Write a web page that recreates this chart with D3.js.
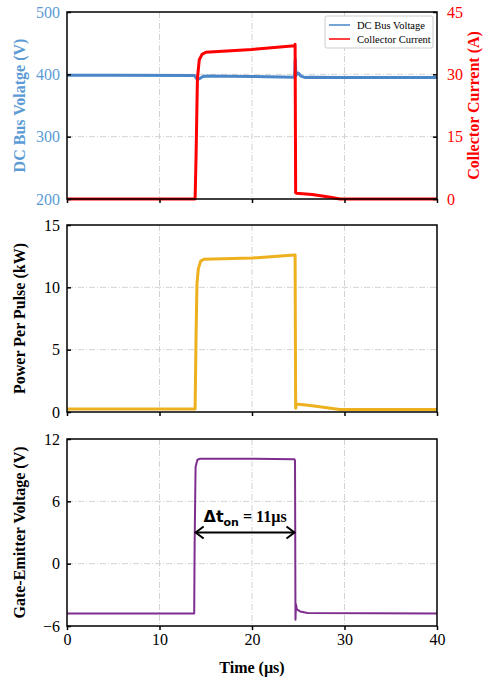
<!DOCTYPE html>
<html><head><meta charset="utf-8">
<script src="https://cdn.jsdelivr.net/npm/d3@7"></script>
<style>body{margin:0;background:#fff}svg{display:block}</style>
</head><body><svg id="c" width="483" height="681"></svg>
<script>
// ---- data ----
const xTicks = [0, 10, 20, 30, 40];
const vbusTicks = [200, 300, 400, 500];
const curTicks = [0, 15, 30, 45];
const powTicks = [0, 5, 10, 15];
const gateTicks = [-6, 0, 6, 12];

const vbusT = [0, 5, 13.8, 14.0, 14.3, 14.7, 15.2, 20, 24.6, 24.68, 24.75, 24.85, 25.0, 25.3, 25.7, 26.2, 30, 40];
const vbusV = [398.5, 398.5, 398, 393.5, 393, 396.5, 397.5, 396.5, 395.5, 424, 398, 401.5, 402, 397, 395, 395.5, 395, 395];

const curT = [0, 13.85, 13.95, 14.1, 14.3, 14.6, 15.0, 20, 24.6, 24.66, 24.72, 24.8, 26.5, 28.5, 29.5, 40];
const curA = [0, 0, 10, 29, 33.5, 34.8, 35.3, 36, 36.9, 37.2, 1.5, 1.4, 1.1, 0.4, 0, 0];

const powT = [0, 13.85, 13.95, 14.05, 14.2, 14.45, 14.8, 20, 24.6, 24.66, 24.72, 24.8, 26.5, 29.5, 40];
const powKW = [0.25, 0.25, 6, 10.3, 11.5, 12.1, 12.25, 12.35, 12.6, 12.6, 0.3, 0.65, 0.5, 0.2, 0.2];

const gateT = [0, 13.75, 13.8, 13.9, 14.1, 14.4, 20, 24.6, 24.65, 24.7, 24.75, 24.85, 25.2, 26, 40];
const gateV = [-4.8, -4.8, 2, 9.3, 10.0, 10.1, 10.1, 10.05, 9.9, -5.4, -3.9, -4.4, -4.6, -4.75, -4.8];

const legendLabels = ["DC Bus Voltage", "Collector Current"];
const arrowT = [13.8, 24.7];
const arrowV = 3;

// ---- layout ----
const svg = d3.select("#c");
const X0 = 67, X1 = 437;
const panels = [[12, 199], [225, 412], [439, 626]];
const serif = "'Liberation Serif','Times New Roman',serif";
const blue = "#4a86c8", blueTxt = "#5b9bd5", red = "#ff0000", orange = "#edb120", purple = "#7e2f8e";

const x = d3.scaleLinear().domain([0, 40]).range([X0, X1]);

function gridAndFrame(y, yt, p) {
  const g = svg.append("g");
  g.selectAll(".gx").data(xTicks.slice(1, -1)).enter().append("line")
    .attr("x1", d => x(d)).attr("x2", d => x(d)).attr("y1", p[0]).attr("y2", p[1])
    .attr("stroke", "#d3d3d3").attr("stroke-width", 1).attr("stroke-dasharray", "6,2,1,2");
  g.selectAll(".gy").data(yt.slice(1, -1)).enter().append("line")
    .attr("x1", X0).attr("x2", X1).attr("y1", d => y(d)).attr("y2", d => y(d))
    .attr("stroke", "#d3d3d3").attr("stroke-width", 1).attr("stroke-dasharray", "6,2,1,2");
}

function frame(p, showXLabels) {
  const g = svg.append("g");
  g.append("rect").attr("x", X0).attr("y", p[0]).attr("width", X1 - X0).attr("height", p[1] - p[0])
    .attr("fill", "none").attr("stroke", "#000").attr("stroke-width", 1.5);
  const ax = d3.axisBottom(x).tickValues(xTicks).tickSize(4).tickSizeOuter(0)
    .tickFormat(showXLabels ? d3.format("d") : "");
  const a = g.append("g").attr("transform", `translate(0,${p[1]})`).call(ax);
  a.select(".domain").remove();
  a.selectAll("line").attr("stroke", "#000").attr("stroke-width", 1.5);
  a.selectAll("text").attr("font-family", serif).attr("font-size", 16).attr("fill", "#000").attr("dy", "0.95em").attr("y", 4);
}

function leftAxis(y, ticks, color, fmt) {
  const ax = d3.axisLeft(y).tickValues(ticks).tickSize(-4).tickSizeOuter(0).tickPadding(7).tickFormat(fmt || d3.format("d"));
  const a = svg.append("g").attr("transform", `translate(${X0},0)`).call(ax);
  a.select(".domain").remove();
  a.selectAll("line").attr("stroke", "#000").attr("stroke-width", 1.5);
  a.selectAll("text").attr("font-family", serif).attr("font-size", 16).attr("fill", color).attr("x", -7);
}
function rightAxis(y, ticks, color) {
  const ax = d3.axisRight(y).tickValues(ticks).tickSize(-4).tickSizeOuter(0).tickFormat(d3.format("d"));
  const a = svg.append("g").attr("transform", `translate(${X1},0)`).call(ax);
  a.select(".domain").remove();
  a.selectAll("line").attr("stroke", "#000").attr("stroke-width", 1.5);
  a.selectAll("text").attr("font-family", serif).attr("font-size", 16).attr("fill", color).attr("x", 10);
}
function ylabel(text, xpos, p, color) {
  svg.append("text").attr("transform", `translate(${xpos},${(p[0] + p[1]) / 2}) rotate(-90)`)
    .attr("text-anchor", "middle").attr("font-family", serif).attr("font-weight", "bold")
    .attr("font-size", 16).attr("fill", color).text(text);
}
function drawLine(xs, ys, y, color, w) {
  const pts = xs.map((t, i) => [t, ys[i]]);
  svg.append("path").datum(pts).attr("fill", "none").attr("stroke", color).attr("stroke-width", w)
    .attr("stroke-linejoin", "round")
    .attr("d", d3.line().x(d => x(d[0])).y(d => y(d[1])));
}

// ---- panel 1 ----
const p1 = panels[0];
const yV = d3.scaleLinear().domain([200, 500]).range([p1[1], p1[0]]);
const yI = d3.scaleLinear().domain([0, 45]).range([p1[1], p1[0]]);
gridAndFrame(yV, vbusTicks, p1);
drawLine(vbusT, vbusV, yV, blue, 3);
drawLine(curT, curA, yI, red, 3);
frame(p1, false);
leftAxis(yV, vbusTicks, blueTxt);
rightAxis(yI, curTicks, red);
ylabel("DC Bus Volatge (V)", 25, p1, blueTxt);
ylabel("Collector Current (A)", 479, p1, red);
// legend
const lg = svg.append("g");
lg.append("rect").attr("x", 325).attr("y", 16).attr("width", 108).attr("height", 32).attr("rx", 2)
  .attr("fill", "#fff").attr("stroke", "#cccccc").attr("stroke-width", 1);
[blue, red].forEach((c, i) => {
  const yy = 25 + i * 14;
  lg.append("line").attr("x1", 329).attr("x2", 350).attr("y1", yy).attr("y2", yy).attr("stroke", c).attr("stroke-width", 1.5);
  lg.append("text").attr("x", 357).attr("y", yy + 3.5).attr("font-family", serif).attr("font-size", 10.5)
    .attr("fill", "#000").text(legendLabels[i]);
});

// ---- panel 2 ----
const p2 = panels[1];
const yP = d3.scaleLinear().domain([0, 15]).range([p2[1], p2[0]]);
gridAndFrame(yP, powTicks, p2);
drawLine(powT, powKW, yP, orange, 3);
frame(p2, false);
leftAxis(yP, powTicks, "#000");
ylabel("Power Per Pulse (kW)", 25, p2, "#000");

// ---- panel 3 ----
const p3 = panels[2];
const yG = d3.scaleLinear().domain([-6, 12]).range([p3[1], p3[0]]);
gridAndFrame(yG, gateTicks, p3);
drawLine(gateT, gateV, yG, purple, 2);
frame(p3, true);
leftAxis(yG, gateTicks, "#000");
ylabel("Gate-Emitter Voltage (V)", 25, p3, "#000");
svg.append("text").attr("x", (X0 + X1) / 2).attr("y", 673).attr("text-anchor", "middle")
  .attr("font-family", serif).attr("font-weight", "bold").attr("font-size", 16).text("Time (µs)");

// annotation arrow
const ay = yG(arrowV), ax0 = x(arrowT[0]), ax1 = x(arrowT[1]);
const ag = svg.append("g").attr("stroke", "#000").attr("stroke-width", 2).attr("fill", "none");
ag.append("line").attr("x1", ax0 + 1).attr("x2", ax1 - 1).attr("y1", ay).attr("y2", ay);
ag.append("polyline").attr("points", `${ax0 + 9},${ay - 6} ${ax0 + 1},${ay} ${ax0 + 9},${ay + 6}`);
ag.append("polyline").attr("points", `${ax1 - 9},${ay - 6} ${ax1 - 1},${ay} ${ax1 - 9},${ay + 6}`);
const at = svg.append("text").attr("x", (ax0 + ax1) / 2).attr("y", ay - 11).attr("text-anchor", "middle")
  .attr("font-weight", "bold").attr("font-size", 16).attr("fill", "#000");
at.append("tspan").attr("font-family", "'DejaVu Sans',sans-serif").text("Δt");
at.append("tspan").attr("font-family", "'DejaVu Sans',sans-serif").attr("font-size", 11).attr("dy", 4).text("on");
at.append("tspan").attr("font-family", serif).attr("dy", -4).text(" = 11µs");
</script></body></html>
